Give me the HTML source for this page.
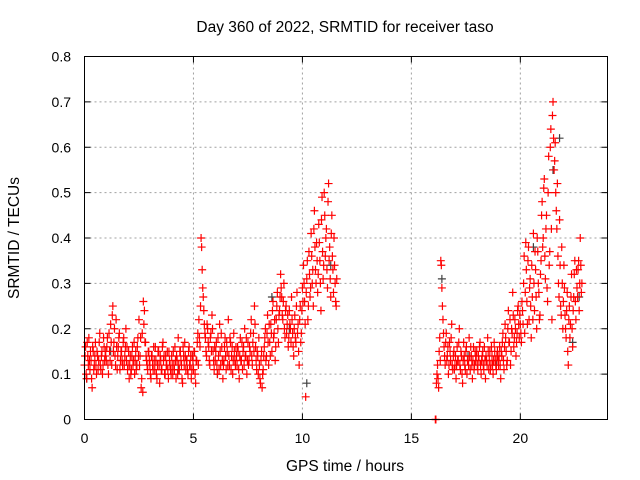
<!DOCTYPE html>
<html><head><meta charset="utf-8"><style>
body{margin:0;background:#fff}
svg{display:block;font-family:"Liberation Sans",sans-serif}
</style></head><body>
<svg id="chart" width="640" height="480">
<rect x="0" y="0" width="640" height="480" fill="#fff"/>
<g id="grid"></g>
<g id="ticks"></g>
<g id="marks"></g>
<rect x="84.5" y="56.5" width="523" height="363" fill="none" stroke="#000" stroke-width="1"/>
<text x="345" y="32" text-anchor="middle" font-size="15.5">Day 360 of 2022, SRMTID for receiver taso</text>
<text x="345" y="471" text-anchor="middle" font-size="15.5">GPS time / hours</text>
<text x="19" y="238" text-anchor="middle" font-size="15.5" transform="rotate(-90 19 238)">SRMTID / TECUs</text>
</svg>
<script>
const xTicks=[0,5,10,15,20];
const yTicks=[0,0.1,0.2,0.3,0.4,0.5,0.6,0.7,0.8];
const yTickLabels=["0","0.1","0.2","0.3","0.4","0.5","0.6","0.7","0.8"];
const sampleStep=0.05;
const seg1Start=0;
const seg1Values=[0.12,0.16,0.09,0.14,0.18,0.11,0.13,0.07,0.15,0.12,0.17,0.10,0.14,0.13,0.19,0.11,0.15,0.12,0.16,0.14,
0.13,0.18,0.10,0.15,0.21,0.12,0.25,0.17,0.14,0.22,0.11,0.16,0.19,0.13,0.15,0.12,0.18,0.14,0.20,0.16,
0.12,0.09,0.14,0.11,0.16,0.13,0.10,0.15,0.12,0.18,0.22,0.14,0.07,0.19,0.26,0.24,0.17,0.13,0.11,0.15,
0.12,0.09,0.14,0.11,0.13,0.16,0.10,0.12,0.15,0.08,0.13,0.11,0.17,0.14,0.10,0.12,0.15,0.09,0.13,0.11,
0.14,0.10,0.12,0.16,0.09,0.13,0.18,0.11,0.15,0.12,0.08,0.14,0.17,0.11,0.13,0.10,0.16,0.12,0.09,0.14,
0.11,0.15,0.08,0.13,0.19,0.22,0.16,0.40,0.33,0.27,0.21,0.18,0.14,0.20,0.16,0.12,0.19,0.23,0.15,0.11,
0.13,0.17,0.10,0.14,0.21,0.12,0.16,0.09,0.13,0.18,0.11,0.15,0.22,0.12,0.17,0.14,0.10,0.19,0.13,0.16,
0.12,0.15,0.09,0.18,0.13,0.11,0.16,0.20,0.14,0.10,0.17,0.13,0.15,0.22,0.12,0.19,0.25,0.16,0.11,0.14,
0.18,0.09,0.13,0.07,0.11,0.16,0.20,0.14,0.23,0.12,0.17,0.21,0.15,0.26,0.19,0.13,0.22,0.28,0.17,0.24,
0.32,0.27,0.22,0.30,0.18,0.25,0.21,0.16,0.24,0.20,0.27,0.19,0.14,0.23,0.17,0.28,0.21,0.12,0.25,0.19,
0.29,0.34,0.26,0.05,0.31,0.22,0.37,0.27,0.41,0.30,0.25,0.46,0.33,0.39,0.28,0.43,0.35,0.24,0.49,0.31,
0.50,0.36,0.42,0.29,0.52,0.38,0.27,0.45,0.33,0.40,0.30,0.25];
const seg1ValuesB=[0.14,0.10,0.17,0.12,0.13,0.15,0.09,0.16,0.11,0.14,0.12,0.15,0.11,0.17,0.12,0.14,0.10,0.18,0.13,0.15,
0.16,0.12,0.19,0.13,0.17,0.23,0.15,0.20,0.12,0.16,0.14,0.18,0.11,0.15,0.13,0.17,0.12,0.16,0.13,0.11,
0.15,0.12,0.10,0.14,0.12,0.17,0.13,0.11,0.16,0.14,0.12,0.18,0.09,0.06,0.21,0.17,0.14,0.12,0.15,0.13,
0.10,0.14,0.12,0.16,0.11,0.13,0.09,0.15,0.12,0.14,0.11,0.16,0.13,0.10,0.14,0.12,0.11,0.15,0.12,0.10,
0.12,0.15,0.11,0.13,0.14,0.10,0.12,0.15,0.13,0.09,0.16,0.12,0.14,0.13,0.11,0.15,0.12,0.14,0.11,0.13,
0.15,0.10,0.13,0.17,0.12,0.18,0.25,0.38,0.29,0.24,0.19,0.15,0.21,0.17,0.13,0.18,0.15,0.20,0.13,0.16,
0.15,0.12,0.18,0.11,0.15,0.19,0.13,0.12,0.16,0.14,0.17,0.12,0.14,0.18,0.11,0.16,0.13,0.15,0.12,0.14,
0.16,0.11,0.14,0.13,0.17,0.15,0.12,0.14,0.18,0.13,0.12,0.16,0.19,0.14,0.17,0.15,0.21,0.13,0.15,0.10,
0.12,0.08,0.15,0.10,0.14,0.18,0.13,0.19,0.17,0.21,0.14,0.19,0.24,0.18,0.22,0.16,0.25,0.20,0.23,0.27,
0.29,0.23,0.26,0.20,0.24,0.19,0.23,0.18,0.21,0.17,0.22,0.16,0.20,0.18,0.25,0.19,0.15,0.22,0.17,0.24,
0.26,0.30,0.21,0.28,0.35,0.25,0.32,0.29,0.36,0.33,0.42,0.38,0.30,0.35,0.32,0.39,0.30,0.44,0.37,0.34,
0.45,0.40,0.33,0.48,0.35,0.31,0.41,0.36,0.28,0.34,0.26,0.31];
const seg2Start=16.1;
const seg2Values=[0.00,0.08,0.12,0.07,0.18,0.35,0.29,0.22,0.16,0.12,0.19,0.14,0.10,0.17,0.13,0.21,0.11,0.15,
0.12,0.09,0.16,0.13,0.20,0.11,0.14,0.08,0.17,0.12,0.15,0.10,0.13,0.18,0.11,0.14,0.09,0.16,0.12,0.13,
0.15,0.11,0.13,0.17,0.10,0.14,0.12,0.16,0.09,0.13,0.18,0.11,0.15,0.12,0.14,0.10,0.17,0.13,0.11,0.15,
0.12,0.16,0.09,0.14,0.19,0.11,0.21,0.15,0.13,0.24,0.17,0.12,0.20,0.28,0.16,0.22,0.14,0.19,0.25,0.18,
0.21,0.17,0.24,0.30,0.19,0.39,0.26,0.35,0.22,0.31,0.18,0.27,0.41,0.24,0.33,0.20,0.37,0.28,0.23,0.35,
0.48,0.40,0.53,0.31,0.45,0.26,0.58,0.37,0.64,0.22,0.70,0.55,0.61,0.46,0.52,0.30,0.44,0.25,0.38,0.20,
0.34,0.23,0.18,0.28,0.12,0.25,0.21,0.32,0.16,0.27,0.35,0.22,0.29,0.33,0.24,0.40,0.28];
const seg2ValuesB=[0.00,0.10,0.09,0.15,0.13,0.34,0.25,0.19,0.14,0.17,0.13,0.16,0.12,0.15,0.18,0.12,0.14,0.11,
0.14,0.12,0.13,0.17,0.12,0.15,0.10,0.13,0.14,0.11,0.16,0.13,0.12,0.14,0.16,0.12,0.13,0.11,0.15,0.14,
0.12,0.14,0.16,0.12,0.13,0.15,0.11,0.13,0.14,0.12,0.15,0.13,0.11,0.16,0.12,0.13,0.15,0.12,0.14,0.13,
0.14,0.12,0.15,0.17,0.13,0.16,0.18,0.12,0.20,0.17,0.22,0.15,0.19,0.23,0.18,0.20,0.17,0.24,0.21,0.23,
0.19,0.26,0.21,0.36,0.28,0.33,0.21,0.38,0.29,0.25,0.34,0.22,0.30,0.37,0.27,0.40,0.30,0.22,0.32,0.45,
0.38,0.51,0.36,0.42,0.29,0.50,0.34,0.60,0.42,0.67,0.62,0.57,0.50,0.42,0.36,0.27,0.34,0.23,0.30,0.26,
0.29,0.20,0.24,0.15,0.22,0.18,0.27,0.20,0.24,0.32,0.26,0.33,0.27,0.35,0.30,0.34,0.30];
const darkHours=[0.1,1.2,2.4,4.3,6.1,8.6,9.4,10.2,11.3,16.4,17.6,18.9,20.6,21.5,21.8,22.4,22.7];
const darkValues=[0.09,0.15,0.12,0.11,0.10,0.27,0.20,0.08,0.34,0.31,0.14,0.12,0.38,0.55,0.62,0.17,0.27];

const X0=84.5,X1=607.5,Y0=419.5,Y1=56.5;
const xs=h=>X0+(h/24)*(X1-X0);
const ys=v=>Y0-(v/0.8)*(Y0-Y1);
const NS="http://www.w3.org/2000/svg";
const grid=document.getElementById('grid'),ticks=document.getElementById('ticks'),marks=document.getElementById('marks');
function mk(tag,attrs,parent){const e=document.createElementNS(NS,tag);for(const k in attrs)e.setAttribute(k,attrs[k]);parent.appendChild(e);return e;}
xTicks.forEach(t=>{
  const x=xs(t);
  if(t>0){const g=mk('line',{x1:x,x2:x,y1:Y0,y2:Y1,stroke:'#a0a0a0','stroke-dasharray':'2,3'},grid);
  
  }
  mk('line',{x1:x,x2:x,y1:Y0,y2:Y0-6,stroke:'#000'},ticks);
  mk('line',{x1:x,x2:x,y1:Y1,y2:Y1+6,stroke:'#000'},ticks);
  const l=mk('text',{x:x,y:443,'text-anchor':'middle','font-size':14},ticks);
  l.textContent=String(t);
  
  
});
yTicks.forEach((t,i)=>{
  const y=ys(t);
  if(i>0&&i<yTicks.length-1){const g=mk('line',{x1:X0,x2:X1,y1:y,y2:y,stroke:'#a0a0a0','stroke-dasharray':'2,3'},grid);
  
  }
  mk('line',{x1:X0,x2:X0+6,y1:y,y2:y,stroke:'#000'},ticks);
  mk('line',{x1:X1,x2:X1-6,y1:y,y2:y,stroke:'#000'},ticks);
  const l=mk('text',{x:71,y:y+5,'text-anchor':'end','font-size':14},ticks);
  l.textContent=yTickLabels[i];
  
  
});
function plus(h,v,color){
  const x=xs(h),y=ys(v);
  const p=mk('path',{d:`M${x-4} ${y}H${x+4}M${x} ${y-4}V${y+4}`,stroke:color,'stroke-width':1.2,fill:'none'},marks);
  
  
}
darkHours.forEach((h,i)=>plus(h,darkValues[i],'#404040'));
seg1Values.forEach((v,i)=>plus(seg1Start+i*sampleStep,v,'#ff0000'));
seg1ValuesB.forEach((v,i)=>plus(seg1Start+(i+0.5)*sampleStep,v,'#ff0000'));
seg2Values.forEach((v,i)=>plus(seg2Start+i*sampleStep,v,'#ff0000'));
seg2ValuesB.forEach((v,i)=>plus(seg2Start+(i+0.5)*sampleStep,v,'#ff0000'));
</script>
</body></html>
